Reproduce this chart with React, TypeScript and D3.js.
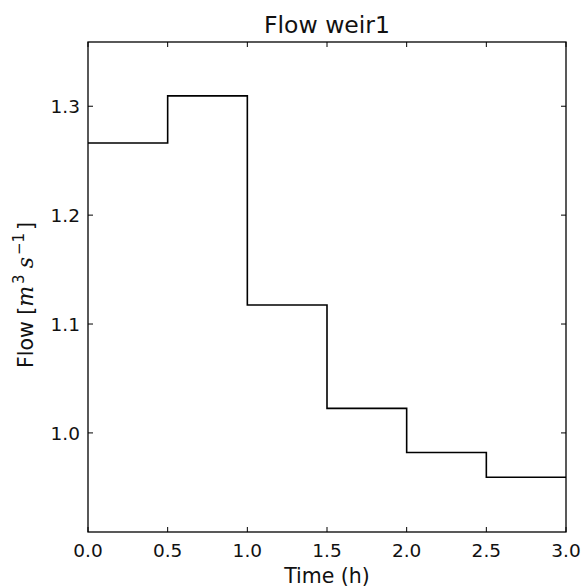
import React from "react";
import * as d3 from "d3";

const stepStarts = [0, 0.5, 1.0, 1.5, 2.0, 2.5];
const flowValues = [1.2663, 1.3095, 1.1175, 1.0225, 0.982, 0.9593];
const xEnd = 3.0;
const xTicks = [0, 0.5, 1.0, 1.5, 2.0, 2.5, 3.0];
const yTicks = [1.0, 1.1, 1.2, 1.3];

const W = 587, H = 588;
const m = { left: 88, right: 566, top: 42, bottom: 532 };

export default function App() {
  const x = d3.scaleLinear().domain([0, 3]).range([m.left, m.right]);
  const y = d3.scaleLinear().domain([0.909, 1.359]).range([m.bottom, m.top]);
  const pts: [number, number][] = stepStarts.map((s, i) => [s, flowValues[i]]);
  pts.push([xEnd, flowValues[flowValues.length - 1]]);
  const line = d3.line<[number, number]>().x(d => x(d[0])).y(d => y(d[1])).curve(d3.curveStepAfter);
  const font = "DejaVu Sans, sans-serif";
  const tl = 5;
  const tf = 18.5;
  return (
    <svg width={W} height={H} style={{ position: "absolute", left: 0, top: 0, background: "#fff" }} fontFamily={font}>
      <rect x={0} y={0} width={W} height={H} fill="#fff" />
      <path d={line(pts) || ""} fill="none" stroke="#000" strokeWidth={1.6} />
      {xTicks.map(t => (
        <g key={"x" + t}>
          <line x1={x(t)} x2={x(t)} y1={m.bottom} y2={m.bottom - tl} stroke="#000" />
          <line x1={x(t)} x2={x(t)} y1={m.top} y2={m.top + tl} stroke="#000" />
          <text x={x(t)} y={556.5} fontSize={tf} textAnchor="middle" fill="#111">{t.toFixed(1)}</text>
        </g>
      ))}
      {yTicks.map(t => (
        <g key={"y" + t}>
          <line x1={m.left} x2={m.left + tl} y1={y(t)} y2={y(t)} stroke="#000" />
          <line x1={m.right} x2={m.right - tl} y1={y(t)} y2={y(t)} stroke="#000" />
          <text x={m.left - 8} y={y(t) + 6.7} fontSize={tf} textAnchor="end" fill="#111">{t.toFixed(1)}</text>
        </g>
      ))}
      <rect x={m.left} y={m.top} width={m.right - m.left} height={m.bottom - m.top} fill="none" stroke="#000" strokeWidth={1.3} />
      <text x={(m.left + m.right) / 2} y={33} fontSize={23.5} textAnchor="middle" fill="#111">Flow weir1</text>
      <text x={(m.left + m.right) / 2} y={583} fontSize={20.5} textAnchor="middle" fill="#111">Time (h)</text>
      <text transform={`translate(33, 295) rotate(-90)`} fontSize={20.5} textAnchor="middle" fill="#111">
        <tspan>Flow [</tspan><tspan fontSize={22} fontFamily="DejaVu Serif, serif" fontStyle="italic">m</tspan><tspan fontSize={15} dx={2} dy={-9}>3</tspan><tspan fontSize={22} dy={9} dx={6} fontFamily="DejaVu Serif, serif" fontStyle="italic">s</tspan><tspan fontSize={15} dx={2} dy={-9}>−1</tspan><tspan dy={9} dx={3}>]</tspan>
      </text>
    </svg>
  );
}
